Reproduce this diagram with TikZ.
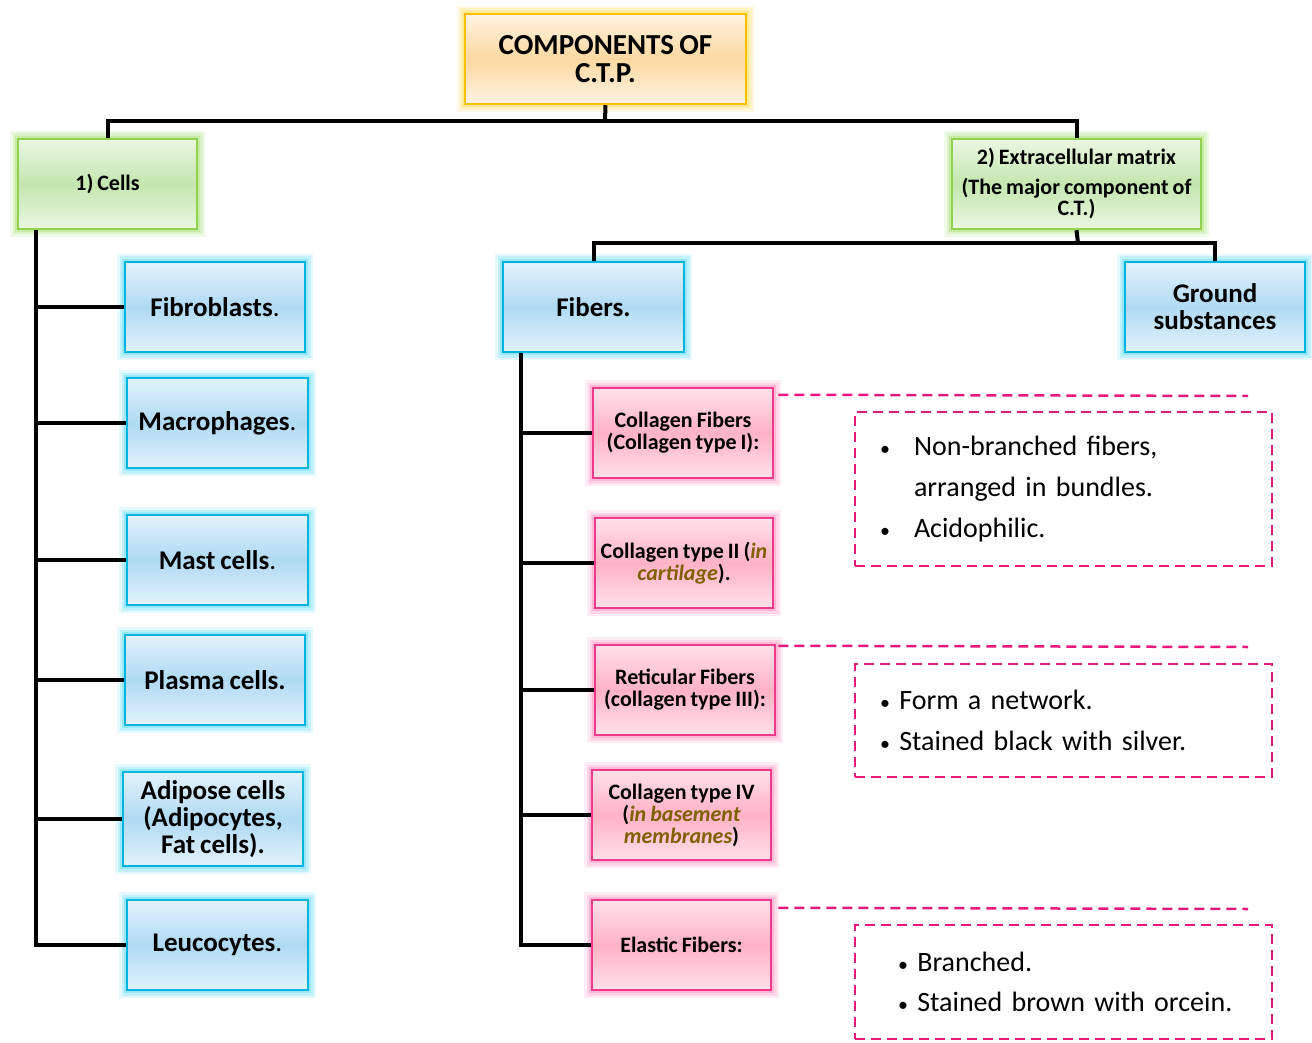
\documentclass[tikz,border=0pt]{standalone}
\usepackage{fontspec}
\setmainfont{Carlito}[WordSpace=0.8]

\definecolor{goldline}{HTML}{FFC000}
\definecolor{goldfill}{HTML}{FCD8A0}
\definecolor{goldglow}{HTML}{FFE066}
\definecolor{greenline}{HTML}{92D050}
\definecolor{greenfill}{HTML}{C4E6AE}
\definecolor{greenglow}{HTML}{B2E482}
\definecolor{blueline}{HTML}{00B4E0}
\definecolor{bluefill}{HTML}{AFDAF3}
\definecolor{blueglow}{HTML}{70DDF8}
\definecolor{pinkline}{HTML}{EE3A8A}
\definecolor{pinkfill}{HTML}{FFB2C6}
\definecolor{pinkglow}{HTML}{FF9CC6}
\definecolor{dashpink}{HTML}{E8197C}
\definecolor{olivetext}{HTML}{806000}

\newcommand{\smallbullet}{{\fontsize{20}{20}\selectfont\textbullet}}

\begin{document}
\begin{tikzpicture}[x=1pt,y=-1pt,
    box/.style={draw, line width=2.5pt, align=center, inner sep=2pt,
        font=\bfseries},
    glowing/.style={preaction={draw=#1, line width=16pt, opacity=.18, rounded corners=7pt},
        preaction={draw=#1, line width=11pt, opacity=.3, rounded corners=5pt},
        preaction={draw=#1, line width=6pt, opacity=.5, rounded corners=2pt}},
    titlebox/.style={box, draw=goldline, glowing=goldglow, top color=goldfill!30!white,
        bottom color=goldfill!30!white, middle color=goldfill,
        minimum width=281pt, minimum height=90pt, font=\bfseries\fontsize{29}{28}\selectfont},
    groupbox/.style={box, draw=greenline, glowing=greenglow, top color=greenfill!35!white,
        bottom color=greenfill!35!white, middle color=greenfill,
        minimum height=90pt, font=\bfseries\fontsize{22}{21}\selectfont},
    itembox/.style={box, draw=blueline, glowing=blueglow, top color=bluefill!35!white,
        bottom color=bluefill!35!white, middle color=bluefill,
        minimum width=180pt, minimum height=90pt, font=\bfseries\fontsize{27}{27}\selectfont},
    fiberbox/.style={box, draw=pinkline, glowing=pinkglow, top color=pinkfill!40!white,
        bottom color=pinkfill!40!white, middle color=pinkfill,
        minimum width=179pt, minimum height=90pt, font=\bfseries\fontsize{22}{22}\selectfont},
    notebox/.style={draw=dashpink, line width=2.5pt, dash pattern=on 10pt off 6pt,
        minimum width=417pt, text width=367pt, inner xsep=25pt, align=left,
        font=\fontsize{28}{41}\selectfont},
    dashline/.style={draw=dashpink, line width=2.5pt, dash pattern=on 10pt off 6pt},
    tree/.style={draw=black, line width=4pt}]

    \useasboundingbox (0,0) rectangle (1312,1043);

    % top of the tree
    \node[titlebox] (title) at (605.5,59) {COMPONENTS OF\\C.T.P.};
    \node[groupbox, minimum width=179pt] (cells) at (107.5,184) {1) Cells};
    \node[groupbox, minimum width=249pt] (ecm) at (1076.5,184)
        {2) Extracellular matrix\\[9pt](The major component of\\C.T.)};

    \coordinate (topbar) at (605,121);
    \draw[tree] (title.south) -- (topbar);
    \draw[tree] (cells.north) |- (topbar) -| (ecm.north);

    % cells
    \node[itembox] (fibro) at (215,307) {Fibroblasts{\mdseries.}};
    \node[itembox, minimum width=181pt] (macro) at (217.5,423) {Macrophages{\mdseries.}};
    \node[itembox, minimum width=181pt] (mast) at (217.5,560) {Mast cells{\mdseries.}};
    \node[itembox] (plasma) at (215,680) {Plasma cells.};
    \node[itembox, minimum height=94pt] (adipo) at (213,819)
        {Adipose cells\\(Adipocytes,\\Fat cells).};
    \node[itembox, minimum width=181pt] (leuco) at (217.5,945) {Leucocytes{\mdseries.}};

    \coordinate (cstem) at ([xshift=19pt]cells.south west);
    \draw[tree] (cstem) |- (leuco.west);
    \draw[tree] (fibro.west) -- (fibro.west -| cstem);
    \draw[tree] (macro.west) -- (macro.west -| cstem);
    \draw[tree] (mast.west) -- (mast.west -| cstem);
    \draw[tree] (plasma.west) -- (plasma.west -| cstem);
    \draw[tree] (adipo.west) -- (adipo.west -| cstem);

    % extracellular matrix
    \node[itembox, minimum width=181pt] (fibers) at (593.5,307) {Fibers.};
    \node[itembox] (ground) at (1215,307) {Ground\\substances};

    \coordinate (ecmbar) at (1078,243);
    \draw[tree] (ecm.south) -- (ecmbar);
    \draw[tree] (fibers.north) |- (ecmbar) -| (ground.north);

    % fibers
    \node[fiberbox, minimum width=180pt] (colI) at (683,433)
        {Collagen Fibers\\(Collagen type I):};
    \node[fiberbox, minimum width=178pt] (colII) at (684,563)
        {Collagen type II (\textcolor{olivetext}{\itshape in}\\
         \textcolor{olivetext}{\itshape cartilage}).};
    \node[fiberbox, minimum width=180pt] (retic) at (685,690)
        {Reticular Fibers\\(collagen type III):};
    \node[fiberbox] (colIV) at (681.5,815)
        {Collagen type IV\\(\textcolor{olivetext}{\itshape in basement}\\
         \textcolor{olivetext}{\itshape membranes})};
    \node[fiberbox] (elastic) at (681.5,945) {Elastic Fibers:};

    \coordinate (fstem) at ([xshift=19pt]fibers.south west);
    \draw[tree] (fstem) |- (elastic.west);
    \draw[tree] (colI.west) -- (colI.west -| fstem);
    \draw[tree] (colII.west) -- (colII.west -| fstem);
    \draw[tree] (retic.west) -- (retic.west -| fstem);
    \draw[tree] (colIV.west) -- (colIV.west -| fstem);

    % notes
    \node[notebox, minimum height=154pt] (noteColl) at (1063.5,489)
        {\makebox[34pt][l]{\smallbullet}Non-branched fibers,\\
         \hspace*{34pt}arranged in bundles.\\
         \makebox[34pt][l]{\smallbullet}Acidophilic.};
    \node[notebox, minimum height=113pt] (noteRet) at (1063.5,720.5)
        {\smallbullet\ Form a network.\\
         \smallbullet\ Stained black with silver.};
    \node[notebox, minimum height=114pt] (noteEl) at (1063.5,982)
        {\hspace*{18pt}\smallbullet\ Branched.\\[-1pt]
         \hspace*{18pt}\smallbullet\ Stained brown with orcein.};

    \coordinate (dColl) at (1248,396);
    \coordinate (dRet) at (1248,647);
    \coordinate (dEl) at (1248,909);
    \draw[dashline] ([xshift=4pt,yshift=-8pt]colI.north east) -- (dColl);
    \draw[dashline] ([xshift=2pt,yshift=-2pt]retic.north east) -- (dRet);
    \draw[dashline] ([xshift=6pt,yshift=-9pt]elastic.north east) -- (dEl);

\end{tikzpicture}
\end{document}
